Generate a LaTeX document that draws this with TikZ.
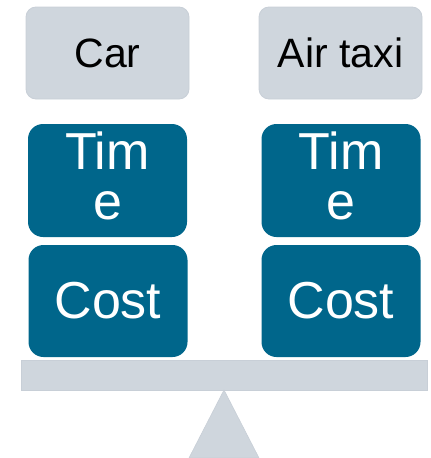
\documentclass[tikz,border=0pt]{standalone}
\usepackage{fontspec}
\setmainfont{Liberation Sans}
\definecolor{panelgrey}{HTML}{CFD6DD}
\definecolor{paneledge}{HTML}{C8CFD7}
\definecolor{teal}{HTML}{00668B}
\begin{document}
\begin{tikzpicture}[x=1pt,y=-1pt,
  modebox/.style={rectangle, rounded corners=10pt, fill=panelgrey, draw=paneledge, line width=0.8pt,
    minimum width=163pt, minimum height=92pt, inner sep=0pt, outer sep=0pt,
    font=\fontsize{41}{41}\selectfont, text=black},
  factorbox/.style={rectangle, rounded corners=15pt, fill=teal, draw=none,
    minimum width=159pt, inner sep=0pt, outer sep=0pt},
  factortext/.style={align=center, inner sep=0pt, text=white,
    font=\fontsize{52}{50}\selectfont},
  scalepart/.style={fill=panelgrey, draw=paneledge, line width=0.6pt}]
  \useasboundingbox (0,0) rectangle (431,458);

  % transport modes
  \node[modebox] (car) at (107.5,53) {Car};
  \node[modebox] (air) at (340.5,53) {Air taxi};

  % weighing factors
  \node[factorbox, minimum height=113pt] (timeL) at (107.5,180.5) {};
  \node[factortext] (timeLtxt) at (107.5,176) {Tim\\e};
  \node[factorbox, minimum height=113pt] (timeR) at (341,180.5) {};
  \node[factortext] (timeRtxt) at (341,176) {Tim\\e};
  \node[factorbox, minimum height=112pt, font=\fontsize{52}{50}\selectfont, text=white] (costL) at (108,301) {Cost};
  \node[factorbox, minimum height=112pt, font=\fontsize{52}{50}\selectfont, text=white] (costR) at (341,301) {Cost};

  % balance beam and pivot
  \node[rectangle, scalepart, minimum width=406pt, minimum height=30pt, inner sep=0pt, outer sep=0pt] (beam) at (224,375) {};
  \coordinate (baseL) at (189,458);
  \coordinate (baseR) at (259,458);
  \draw[scalepart] (beam.south) -- (baseR) -- (baseL) -- cycle;
\end{tikzpicture}
\end{document}
